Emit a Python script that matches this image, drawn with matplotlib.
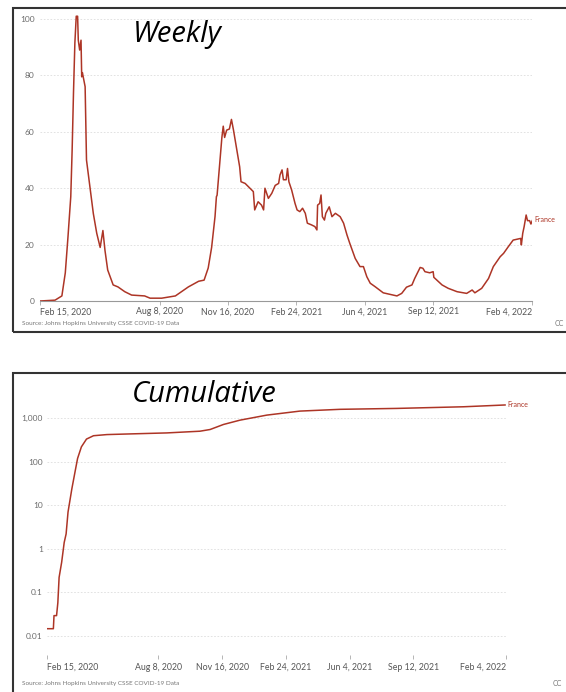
import numpy as np
import matplotlib
matplotlib.use('Agg')
import matplotlib.pyplot as plt
import matplotlib.dates as mdates
from matplotlib.patches import Rectangle

# days after 15 Feb 2020
weekly_days = [0, 22, 32, 37, 41, 45, 47, 49, 51, 53, 55, 56, 58, 60, 61, 62, 66, 68, 73, 78,
               83, 88, 92, 95, 99, 107, 114, 124, 134, 153, 161, 178, 198, 217, 232, 240, 246, 251,
               256, 258, 259, 263, 266, 268, 270, 273, 277, 280, 283, 288, 292, 294, 300, 307, 312,
               314, 319, 324, 327, 329, 334, 339, 344, 349, 351, 354, 356, 360, 362, 364, 368, 373,
               376, 380, 384, 388, 391, 397, 402, 405, 406, 409, 411, 413, 416, 418, 423, 427, 432,
               439, 444, 449, 453, 461, 468, 473, 478, 483, 490, 502, 522, 529, 536, 544, 548, 556,
               560, 563, 570, 575, 576, 583, 588, 597, 610, 624, 632, 636, 646, 656, 663, 673, 678,
               685, 692, 703, 704, 706, 708, 711, 713, 716, 718, 720]
weekly_deaths = [0, 0.3, 1.8, 10, 23, 37, 53.5, 74, 91.5, 101, 101, 92.5, 89, 92.5, 79.5, 81, 76, 50, 40.5, 31,
                 24, 19, 25, 18, 11, 5.7, 5, 3.3, 2.1, 1.8, 1, 1, 1.8, 5, 7.0, 7.4, 11.7, 19,
                 30, 37, 37.5, 49, 58, 62, 58, 60.6, 61, 64.4, 60.6, 53.5, 47.6, 42.3, 41.7, 40, 38.8,
                 32.3, 35.2, 34, 32.3, 40, 36.4, 38.2, 41, 41.7, 44.7, 46.5, 43, 43, 47, 42.3, 39.4, 34.6,
                 32.3, 31.7, 32.9, 31.1, 27.6, 27, 26.4, 25.2, 34, 34.6, 37.6, 29.9, 28.7, 31.1, 33.4, 29.9, 31.1,
                 29.9, 27.6, 23.4, 20.5, 15.1, 12.2, 12.2, 8.6, 6.3, 5.1, 2.9, 1.8, 2.7, 4.9, 5.7, 8, 11.9,
                 11.6, 10.4, 10, 10.4, 8.4, 6.8, 5.7, 4.5, 3.3, 2.7, 3.9, 2.9, 4.5, 8, 12.2, 15.7, 16.9,
                 19.3, 21.6, 22.2, 19.9, 24, 26.3, 30.5, 28.5, 28.5, 27.3, 28.5]

cum_days = [0, 10, 11, 15, 17, 19, 23, 27, 30, 33, 39, 44, 48, 54, 62, 73, 94, 130, 188, 240,
            256, 277, 303, 345, 397, 460, 549, 654, 719]
cum_deaths = [0.0145, 0.0145, 0.029, 0.029, 0.057, 0.22, 0.49, 1.4, 2.2, 7, 24, 59, 120, 222, 335, 400,
              425, 440, 464, 508, 556, 726, 913, 1192, 1475, 1620, 1700, 1855, 2040]

tick_dates = ['2020-02-15', '2020-08-08', '2020-11-16', '2021-02-24', '2021-06-04', '2021-09-12', '2022-02-04']
tick_labels = ['Feb 15, 2020', 'Aug 8, 2020', 'Nov 16, 2020', 'Feb 24, 2021', 'Jun 4, 2021', 'Sep 12, 2021', 'Feb 4, 2022']
weekly_yticks = [0, 20, 40, 60, 80, 100]
cum_yticks = [0.01, 0.1, 1, 10, 100, 1000]
cum_ylabels = ['0.01', '0.1', '1', '10', '100', '1,000']

start = np.datetime64('2020-02-15')
W, H = 566, 692
line_col = '#ad3526'
grey = '#6b6b6b'
plt.rcParams['font.family'] = ['Lato', 'DejaVu Sans']

fig = plt.figure(figsize=(W / 100, H / 100), dpi=100)


def px_box(x0, y0, x1, y1):
    # pixel box (top-left origin) -> figure fraction rect
    return [x0 / W, 1 - y1 / H, (x1 - x0) / W, (y1 - y0) / H]


def to_dates(days):
    return mdates.date2num(start + np.array(days).astype('timedelta64[D]'))


tick_x = mdates.date2num(np.array(tick_dates, dtype='datetime64[D]'))


def style_x(ax, pad):
    ax.set_xlim(tick_x[0], tick_x[-1])
    ax.set_xticks(tick_x)
    ax.set_xticklabels(tick_labels)
    labs = ax.get_xticklabels()
    labs[0].set_ha('left')
    labs[-1].set_ha('right')
    ax.tick_params(axis='x', length=3, width=0.6, color='#aaaaaa', labelsize=6.3, labelcolor='#555555', pad=pad)
    ax.tick_params(axis='y', length=0, labelsize=6.0, labelcolor=grey)
    for s in ['top', 'right', 'left']:
        ax.spines[s].set_visible(False)


# weekly panel
ax1 = fig.add_axes(px_box(40, 13.4, 532.3, 301))
ax1.plot(to_dates(weekly_days), weekly_deaths, color=line_col, lw=1.1)
ax1.set_ylim(0, 102)
ax1.set_yticks(weekly_yticks)
style_x(ax1, 1.5)
ax1.tick_params(axis='y', pad=4)
ax1.spines['bottom'].set_color('#999999')
ax1.spines['bottom'].set_linewidth(0.8)
for v in weekly_yticks[1:]:
    ax1.axhline(v, color='#dddddd', lw=0.6, ls=(0, (2, 2)), zorder=0)
ax1.text(1.005, 28.8, 'France', transform=ax1.get_yaxis_transform(), color=line_col,
         fontsize=5, va='center', ha='left')

# cumulative panel
ax2 = fig.add_axes(px_box(47, 400, 505.7, 655))
ax2.plot(to_dates(cum_days), cum_deaths, color=line_col, lw=1.1)
ax2.set_yscale('log')
ax2.set_ylim(0.0036, 2655)
ax2.set_yticks(cum_yticks)
ax2.set_yticklabels(cum_ylabels)
ax2.minorticks_off()
style_x(ax2, 2.5)
ax2.tick_params(axis='y', pad=3)
ax2.spines['bottom'].set_visible(False)
for v in cum_yticks:
    ax2.axhline(v, color='#dddddd', lw=0.6, ls=(0, (2, 2)), zorder=0)
ax2.text(1.004, 2040, 'France', transform=ax2.get_yaxis_transform(), color=line_col,
         fontsize=5, va='center', ha='left')

# titles typed on the screenshot
fig.text(133 / W, 1 - 42 / H, 'Weekly', fontsize=21, style='italic', family='Open Sans', va='baseline')
fig.text(132 / W, 1 - 402 / H, 'Cumulative', fontsize=21, style='italic', family='Open Sans', va='baseline')

# source lines
src = 'Source: Johns Hopkins University CSSE COVID-19 Data'
fig.text(22 / W, 1 - 323 / H, src, fontsize=4.6, color='#777777', va='center')
fig.text(22 / W, 1 - 683 / H, src, fontsize=4.6, color='#777777', va='center')
fig.text(555 / W, 1 - 323 / H, 'CC', fontsize=5, color='#777777', va='center')
fig.text(553 / W, 1 - 683 / H, 'CC', fontsize=5, color='#777777', va='center')

# panel borders
for y0, y1 in [(8, 332), (373, 720)]:
    x0, y0f, w, h = px_box(13, y0, 600, y1)
    fig.add_artist(Rectangle((x0, y0f), w, h, transform=fig.transFigure, fill=False,
                             edgecolor='#333333', lw=1.5, clip_on=False))

fig.savefig('out.png', dpi=100)
